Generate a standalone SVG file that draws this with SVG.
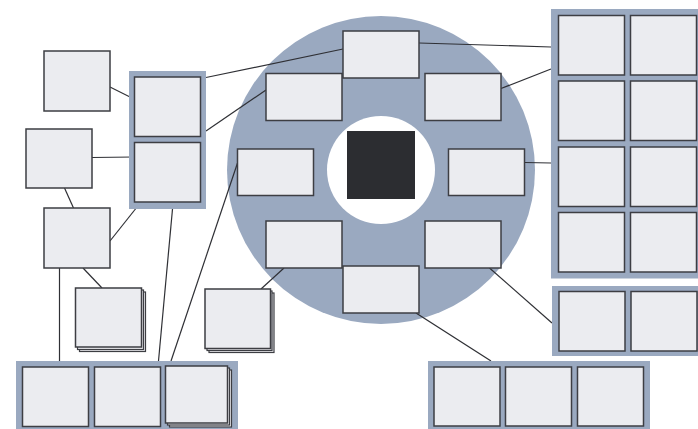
<svg xmlns="http://www.w3.org/2000/svg" width="698" height="429" viewBox="0 0 698 429">
<style>
.bx{fill:#ebecf0;stroke:#3d3e43;stroke-width:1.5}
.sh{fill:#ebecf0;stroke:#3d3e43;stroke-width:1.2}
.ct{fill:#9aa9c0}
.ln{stroke:#2f3035;stroke-width:1.2;fill:none}
</style>
<rect width="698" height="429" fill="#ffffff"/>
<g id="hub">
<circle cx="381" cy="170" r="154" fill="#9aa9c0"/>
<circle cx="381" cy="170" r="54" fill="#ffffff"/>
<rect x="347" y="131" width="68" height="68" fill="#2c2d31"/>
</g>
<g id="connectors">
<line class="ln" x1="110" y1="87" x2="134" y2="99"/>
<line class="ln" x1="92" y1="157.5" x2="134" y2="157"/>
<line class="ln" x1="64.5" y1="188" x2="73.5" y2="208"/>
<line class="ln" x1="141" y1="202" x2="110" y2="241"/>
<line class="ln" x1="83" y1="268" x2="102" y2="288"/>
<line class="ln" x1="59.5" y1="268" x2="59.5" y2="367"/>
<line class="ln" x1="172.5" y1="209" x2="158.5" y2="361"/>
<line class="ln" x1="237.5" y1="163" x2="171" y2="361"/>
<line class="ln" x1="284" y1="268" x2="261" y2="289"/>
<line class="ln" x1="206" y1="77.5" x2="343" y2="49"/>
<line class="ln" x1="206" y1="131" x2="266" y2="90"/>
<line class="ln" x1="419" y1="43" x2="551" y2="47"/>
<line class="ln" x1="501" y1="88.5" x2="551" y2="69"/>
<line class="ln" x1="524.5" y1="162.5" x2="551" y2="163"/>
<line class="ln" x1="489.5" y1="268" x2="552" y2="323"/>
<line class="ln" x1="416" y1="313" x2="491" y2="361"/>
</g>
<g id="n-a"><rect class="bx" x="44" y="51" width="66" height="60"/></g>
<g id="n-c"><rect class="bx" x="26" y="129" width="66" height="59"/></g>
<g id="n-d"><rect class="bx" x="44" y="208" width="66" height="60"/></g>
<g id="grp-b">
<rect class="ct" x="129" y="71" width="77" height="138"/>
<rect class="bx" x="134.5" y="77" width="66" height="59.5"/>
<rect class="bx" x="134.5" y="142.5" width="66" height="59.5"/>
</g>
<g id="n-e">
<rect class="sh" x="79.5" y="292" width="66" height="59.5"/>
<rect class="sh" x="77.5" y="290" width="66" height="59.5"/>
<rect class="bx" x="75.5" y="288" width="66" height="59"/>
</g>
<g id="n-f">
<rect class="sh" x="209" y="293" width="65" height="59.5"/>
<rect class="sh" x="207" y="291" width="65" height="59.5"/>
<rect class="bx" x="205" y="289" width="65.5" height="59.5"/>
</g>
<g id="grp-g">
<rect class="ct" x="16" y="361" width="222" height="68"/>
<rect class="bx" x="22.5" y="367" width="66" height="59.5"/>
<rect class="bx" x="94.5" y="367" width="66" height="59.5"/>
<rect class="sh" x="169.5" y="370" width="62" height="57"/>
<rect class="sh" x="167.5" y="368" width="62" height="57"/>
<rect class="bx" x="165.5" y="366" width="62" height="57"/>
</g>
<g id="ring-nodes">
<rect class="bx" x="343" y="31" width="76" height="47"/>
<rect class="bx" x="266" y="73.5" width="76" height="47"/>
<rect class="bx" x="425" y="73.5" width="76" height="47"/>
<rect class="bx" x="237.5" y="149" width="76" height="46.5"/>
<rect class="bx" x="448.5" y="149" width="76" height="46.5"/>
<rect class="bx" x="266" y="221" width="76" height="47"/>
<rect class="bx" x="425" y="221" width="76" height="47"/>
<rect class="bx" x="343" y="266" width="76" height="47"/>
</g>
<g id="grp-r">
<rect class="ct" x="551" y="9" width="147" height="269.5"/>
<rect class="bx" x="558.5" y="15.5" width="66" height="59.5"/>
<rect class="bx" x="630.5" y="15.5" width="66" height="59.5"/>
<rect class="bx" x="558.5" y="81" width="66" height="59.5"/>
<rect class="bx" x="630.5" y="81" width="66" height="59.5"/>
<rect class="bx" x="558.5" y="147" width="66" height="59.5"/>
<rect class="bx" x="630.5" y="147" width="66" height="59.5"/>
<rect class="bx" x="558.5" y="212.5" width="66" height="59.5"/>
<rect class="bx" x="630.5" y="212.5" width="66" height="59.5"/>
</g>
<g id="grp-s">
<rect class="ct" x="552" y="286" width="146" height="70"/>
<rect class="bx" x="559" y="291.5" width="66" height="59.5"/>
<rect class="bx" x="631" y="291.5" width="66" height="59.5"/>
</g>
<g id="grp-t">
<rect class="ct" x="428" y="361" width="222" height="68"/>
<rect class="bx" x="434" y="367" width="66" height="59"/>
<rect class="bx" x="505.5" y="367" width="66" height="59"/>
<rect class="bx" x="577.5" y="367" width="66" height="59"/>
</g>
</svg>
